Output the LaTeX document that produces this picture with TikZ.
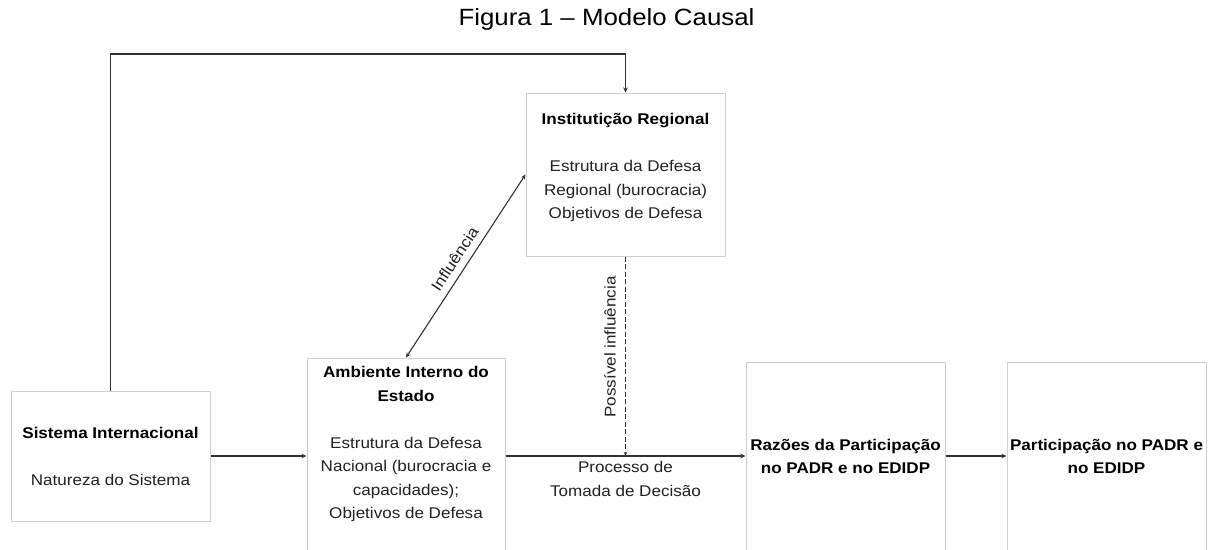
\documentclass[tikz,border=0pt]{standalone}
\usepackage{fontspec}
\setmainfont{Liberation Sans}[FakeStretch=1.1]
\usetikzlibrary{arrows.meta}
\definecolor{boxgray}{HTML}{CFCFCF}
\definecolor{linegray}{HTML}{333333}
\definecolor{textgray}{HTML}{222222}
\begin{document}
\begin{tikzpicture}[x=1pt,y=-1pt,
  box/.style={draw=boxgray, line width=1pt, rectangle, inner sep=0pt},
  txt/.style={align=center, text=textgray, font=\fontsize{15.5}{23.5}\selectfont, inner sep=0pt},
  conn/.style={draw=linegray, line width=1.5pt, -{Stealth[length=5pt,width=4.5pt]}},
  thinconn/.style={draw=linegray, line width=1.2pt, -{Stealth[length=5pt,width=4.5pt]}},
  dashconn/.style={draw=linegray, line width=1.2pt, dash pattern=on 5pt off 2.5pt, -{Stealth[length=4pt,width=3.5pt]}},
  bothconn/.style={draw=linegray, line width=1.1pt, {Stealth[length=5pt,width=4.5pt]}-{Stealth[length=5pt,width=4.5pt]}},
]
\fill[white] (0,0) rectangle (1214,549);
\path[use as bounding box, clip] (0,0) rectangle (1214,549);

% title
\node[font=\fontsize{23.5}{28}\selectfont, text=black, inner sep=0pt] (title) at (606.5,19) {Figura 1 – Modelo Causal};

% boxes
\node[box, minimum width=199pt, minimum height=130pt] (sis) at (110.5,456) {};
\node[box, minimum width=198pt, minimum height=222pt] (amb) at (406,469) {};
\node[box, minimum width=199pt, minimum height=163pt] (inst) at (625.5,174.5) {};
\node[box, minimum width=199pt, minimum height=218pt] (raz) at (845.5,471) {};
\node[box, minimum width=199pt, minimum height=218pt] (par) at (1106.5,471) {};

% texts
\node[txt] (sist) at (110.5,456.5) {\textbf{\color{black}Sistema Internacional}\\[23.5pt]Natureza do Sistema};
\node[txt] (ambt) at (406,444) {\textbf{\color{black}Ambiente Interno do}\\\textbf{\color{black}Estado}\\[23.5pt]Estrutura da Defesa\\Nacional (burocracia e\\capacidades);\\Objetivos de Defesa};
\node[txt] (instt) at (625.5,167.5) {\textbf{\color{black}Institutição Regional}\\[23.5pt]Estrutura da Defesa\\Regional (burocracia)\\Objetivos de Defesa};
\node[txt] (razt) at (845.5,456.5) {\textbf{\color{black}Razões da Participação}\\\textbf{\color{black}no PADR e no EDIDP}};
\node[txt] (part) at (1106.5,456.5) {\textbf{\color{black}Participação no PADR e}\\\textbf{\color{black}no EDIDP}};

% connectors
\coordinate (topy) at (0,54);
\draw[thinconn] (sis.north) -- (sis.north |- topy) -| (inst.north);
\draw[conn] (sis.east) -- (sis.east -| amb.west);
\draw[conn] (sis.east -| amb.east) -- (sis.east -| raz.west)
  node[txt, pos=0.5, below=5pt] (proc) {Processo de\\Tomada de Decisão};
\draw[conn] (sis.east -| raz.east) -- (sis.east -| par.west);
\draw[dashconn] (inst.south) -- (inst.south |- sis.east);
\node[txt, rotate=90] (poss) at (610,347) {Possível influência};
\draw[bothconn] (amb.north) -- (inst.west)
  node[txt, midway, sloped, above=7pt] (infl) {Influência};
\end{tikzpicture}
\end{document}
